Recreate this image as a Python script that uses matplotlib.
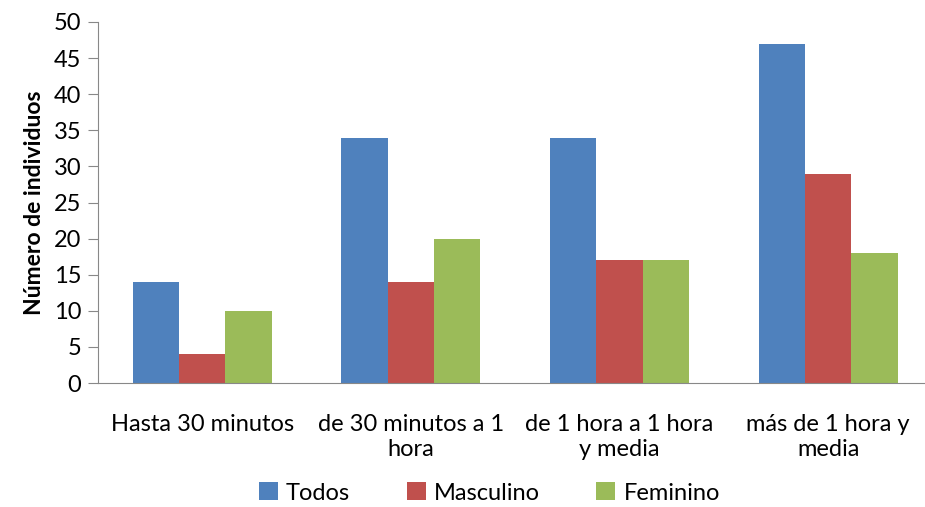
import numpy as np
import matplotlib.pyplot as plt

# data
categorias = ["Hasta 30 minutos", "de 30 minutos a 1\nhora",
              "de 1 hora a 1 hora\ny media", "más de 1 hora y\nmedia"]
todos = [14, 34, 34, 47]
masculino = [4, 14, 17, 29]
femenino = [10, 20, 17, 18]
series = ["Todos", "Masculino", "Feminino"]
colores = ["#4F81BD", "#C0504D", "#9BBB59"]

plt.rcParams['font.family'] = ['Lato', 'DejaVu Sans']

fig = plt.figure(figsize=(9.25, 5.07), dpi=100)
ax = fig.add_axes([98 / 925, 1 - 383 / 507, 834.4 / 925, (383 - 22) / 507])

x = np.arange(len(categorias))
w = 1 / 4.5
for i, (vals, nombre, c) in enumerate(zip([todos, masculino, femenino], series, colores)):
    ax.bar(x + (i - 1) * w, vals, width=w, color=c, label=nombre)

ax.set_xlim(-0.5, len(categorias) - 0.5)
ax.set_ylim(0, 50)
ax.set_yticks(range(0, 51, 5))
ax.set_xticks(x)
ax.set_xticklabels(categorias, fontsize=17, linespacing=1.25)
ax.tick_params(axis='x', length=0, pad=22)
ax.tick_params(axis='y', labelsize=17, length=7, color='#888888', pad=5)

for s in ['top', 'right']:
    ax.spines[s].set_visible(False)
for s in ['left', 'bottom']:
    ax.spines[s].set_color('#888888')

ax.set_ylabel("Número de individuos", fontsize=16.5, fontweight='bold', labelpad=6)

fig.legend(loc='center', bbox_to_anchor=(0.529, 1 - 493 / 507), ncol=3, frameon=False,
           fontsize=17, handlelength=0.8, handleheight=0.8, handletextpad=0.35,
           columnspacing=2.4)

plt.savefig("out.png", dpi=100)
